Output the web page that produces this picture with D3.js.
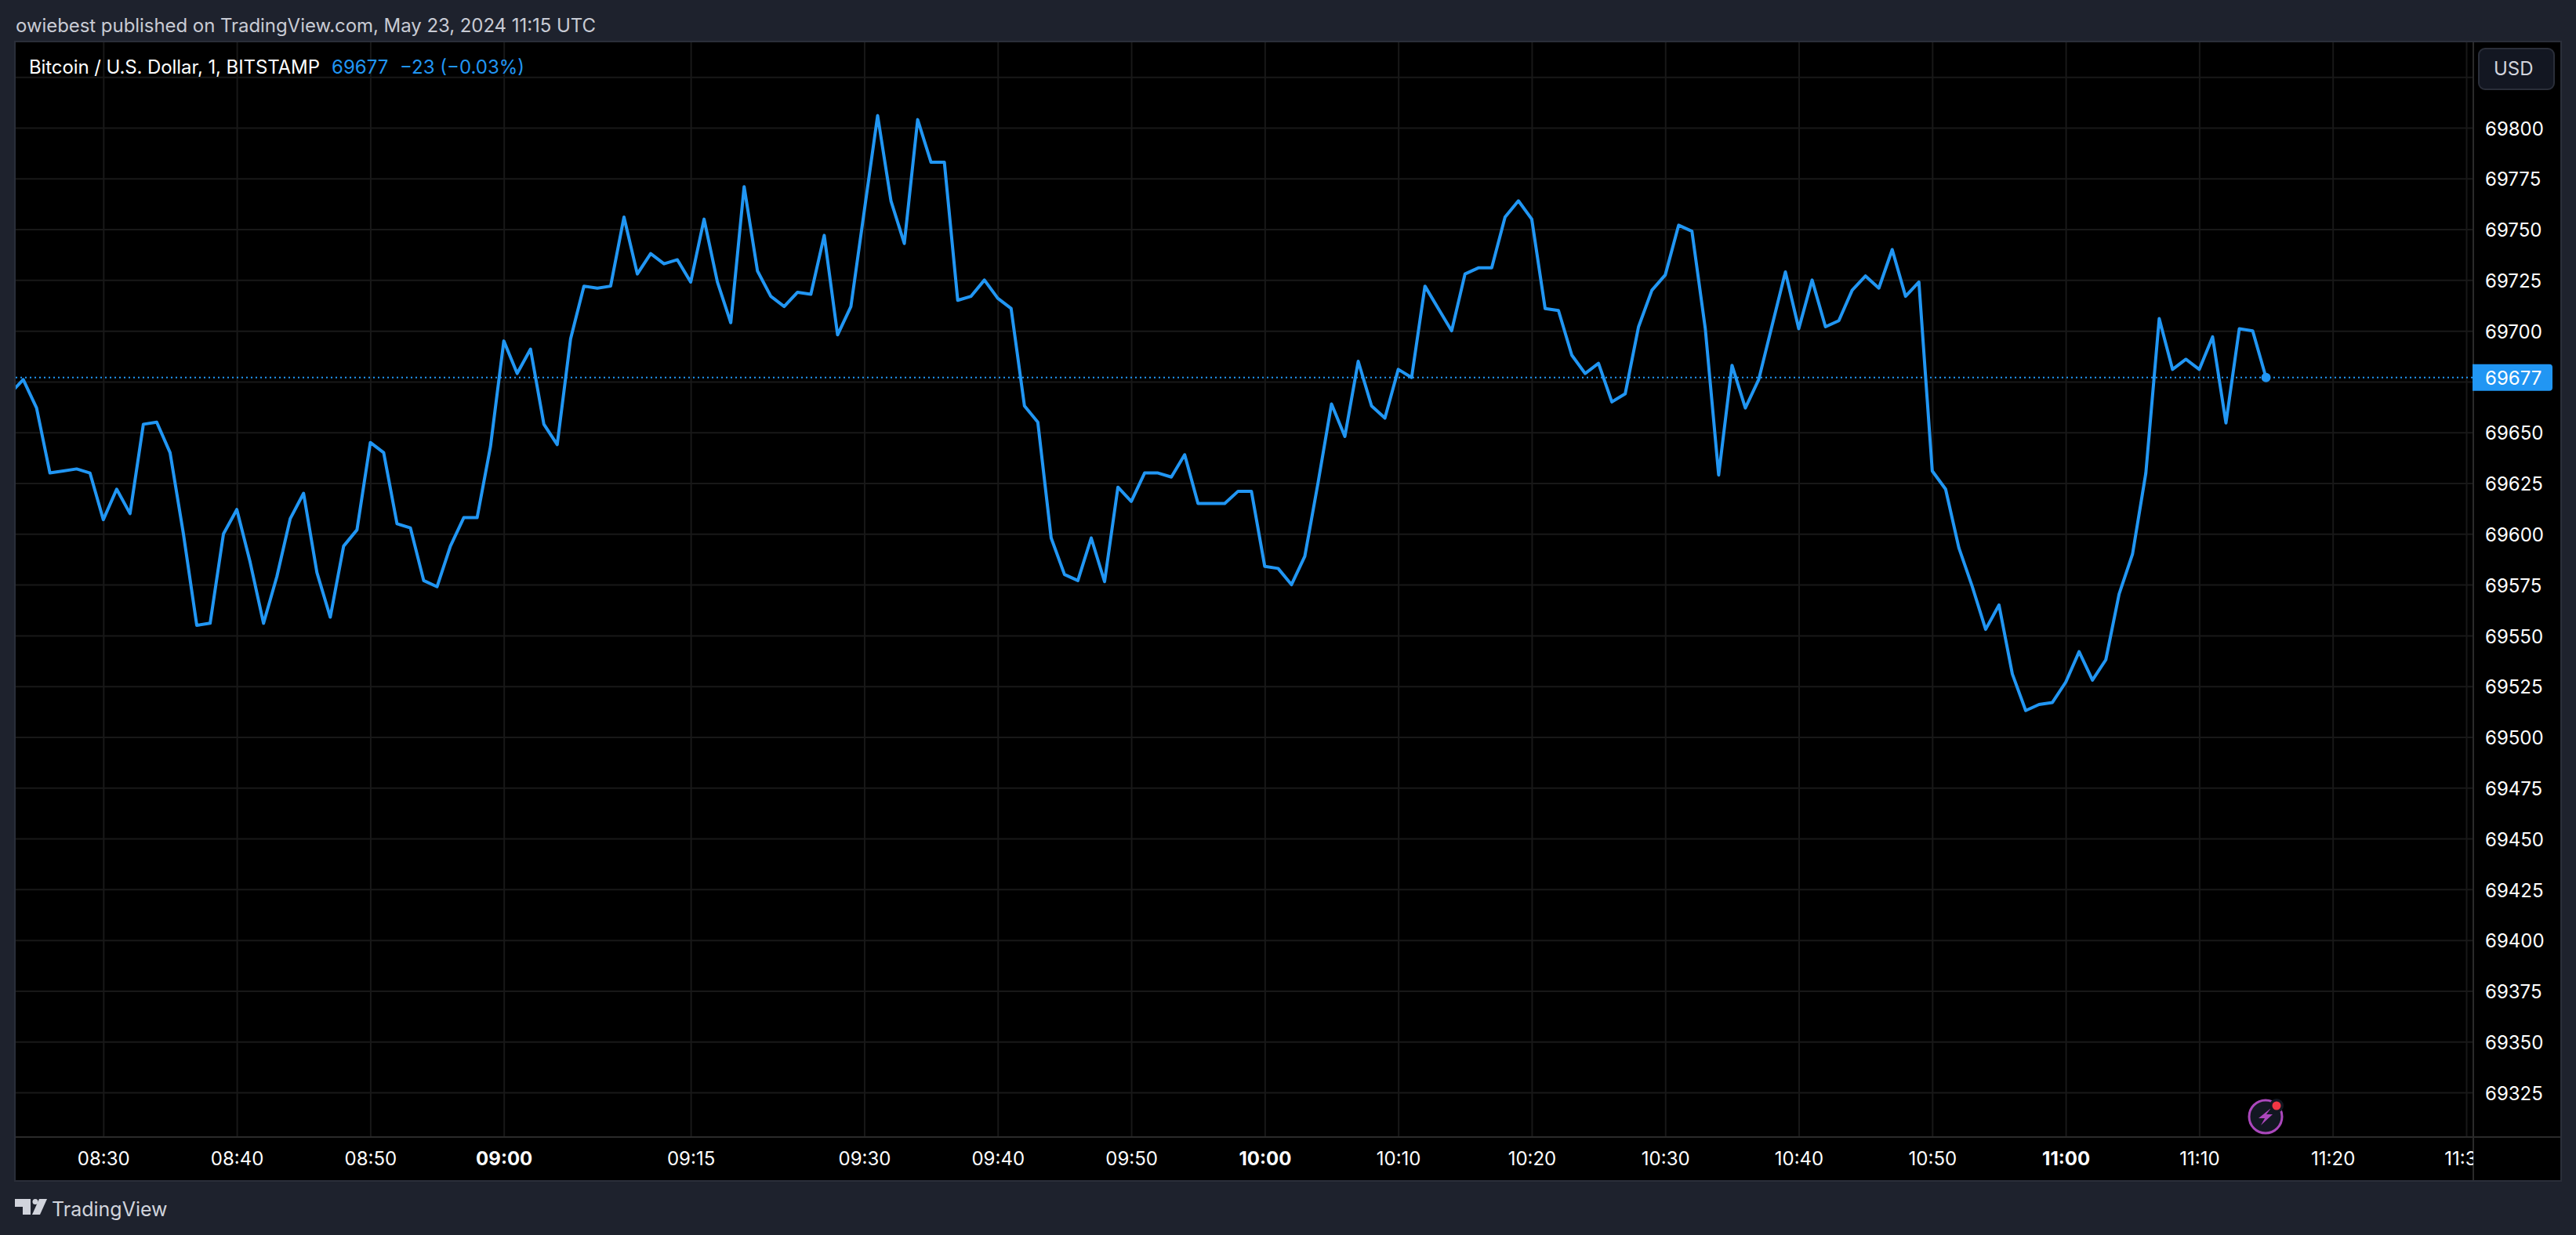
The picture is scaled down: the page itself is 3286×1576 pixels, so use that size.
<!DOCTYPE html>
<html>
<head>
<meta charset="utf-8">
<script src="https://cdn.jsdelivr.net/npm/d3@7"></script>
<style>
    html, body { margin: 0; padding: 0; background: #1e222d; }
    svg { display: block; }
    text { font-family: Inter, "Noto Sans", sans-serif; }
</style>
</head>
<body>
<svg width="3286" height="1576"></svg>
<script>
// closing price of each 1 minute bar
const closes = [
    69669, 69676, 69662, 69630, 69631, 69632, 69630, 69607, 69622, 69610,
    69654, 69655, 69640, 69600, 69555, 69556, 69600, 69612, 69586, 69556,
    69579, 69607.5, 69620, 69581, 69559, 69594, 69602, 69645, 69640, 69605,
    69603, 69577, 69574, 69594, 69608, 69608, 69643, 69695, 69679, 69691,
    69654, 69644, 69696, 69722, 69721, 69722, 69756, 69728, 69738, 69733,
    69735, 69724, 69755, 69724, 69704, 69771, 69729.5, 69717, 69712, 69719,
    69718, 69747, 69698, 69712, 69759, 69806, 69764, 69743, 69804, 69783,
    69783, 69715, 69717, 69725, 69716, 69711, 69663, 69655, 69598, 69580,
    69577, 69598, 69576.5, 69623, 69616, 69630, 69630, 69628, 69639, 69615,
    69615, 69615, 69621, 69621, 69584, 69583, 69575, 69589, 69625.5, 69664,
    69648, 69685, 69663, 69657, 69681, 69677, 69722, 69711, 69700, 69728,
    69731, 69731, 69756, 69764, 69755, 69711, 69710, 69688, 69679, 69684,
    69665, 69669, 69702, 69720, 69727.5, 69752, 69749, 69701, 69629, 69683,
    69662, 69676, 69702.6, 69729, 69701, 69725, 69702, 69705, 69720, 69727,
    69721, 69740, 69717, 69724, 69631, 69622, 69593, 69574, 69553, 69565,
    69531, 69513, 69516, 69517, 69527, 69542, 69528, 69538, 69570.5, 69590,
    69630, 69706, 69681, 69686, 69681, 69697, 69654.6, 69701, 69700, 69677
];

const lastPrice = 69677;

const priceTicks = [69325, 69350, 69375, 69400, 69425, 69450, 69475, 69500, 69525, 69550,
    69575, 69600, 69625, 69650, 69675, 69700, 69725, 69750, 69775, 69800];
const priceGrid = priceTicks.concat([69825]);

// bar index of each time label: bars are missing around 09:15, so not every minute is a bar
const timeBars = [7, 17, 27, 37, 51, 64, 74, 84, 94, 104, 114, 124, 134, 144, 154, 164, 174, 184];
const timeLabels = ["08:30", "08:40", "08:50", "09:00", "09:15", "09:30", "09:40", "09:50", "10:00",
    "10:10", "10:20", "10:30", "10:40", "10:50", "11:00", "11:10", "11:20", "11:30"];

const headerText = "owiebest published on TradingView.com, May 23, 2024 11:15 UTC";
const legendTitle = "Bitcoin / U.S. Dollar, 1, BITSTAMP";
const legendPrice = "69677";
const legendChange = "\u221223 (\u22120.03%)";

const blue = "#2196f3";
const attr_area = {
    left: 20, top: 54, right: 3266, bottom: 1506,
    paneRight: 3155, paneBottom: 1451
};

const svg = d3.select("svg");

const scaleX = d3.scaleLinear().domain([0, 184]).range([12.6, 3146]);
const scaleY = d3.scaleLinear().domain([69325, 69800]).range([1394, 163]);

svg.append("rect")
    .attr("x", attr_area.left)
    .attr("y", attr_area.top)
    .attr("width", attr_area.right - attr_area.left)
    .attr("height", attr_area.bottom - attr_area.top)
    .style("fill", "#000");

const defs = svg.append("defs");
defs.append("clipPath").attr("id", "pane").append("rect")
    .attr("x", attr_area.left)
    .attr("y", attr_area.top)
    .attr("width", attr_area.paneRight - attr_area.left)
    .attr("height", attr_area.paneBottom - attr_area.top);
defs.append("clipPath").attr("id", "timeArea").append("rect")
    .attr("x", attr_area.left)
    .attr("y", attr_area.paneBottom)
    .attr("width", attr_area.paneRight - attr_area.left)
    .attr("height", attr_area.bottom - attr_area.paneBottom);

// grid lines come from axes with a full length tick and no label
const gridX = d3.axisBottom(scaleX).tickValues(timeBars).tickFormat("")
    .tickSize(attr_area.top - attr_area.paneBottom);
const gridY = d3.axisRight(scaleY).tickValues(priceGrid).tickFormat("")
    .tickSize(attr_area.paneRight - attr_area.left);

const gridGroup = svg.append("g").attr("clip-path", "url(#pane)");
gridGroup.append("g")
    .attr("transform", `translate(0, ${attr_area.paneBottom})`)
    .call(gridX);
gridGroup.append("g")
    .attr("transform", `translate(${attr_area.left}, 0)`)
    .call(gridY);
gridGroup.selectAll(".domain").remove();
gridGroup.selectAll("line").style("stroke", "#181818").style("stroke-width", 2);

// dotted last price line
gridGroup.append("line")
    .attr("x1", attr_area.left)
    .attr("x2", attr_area.paneRight)
    .attr("y1", scaleY(lastPrice))
    .attr("y2", scaleY(lastPrice))
    .style("stroke", blue)
    .style("stroke-width", 2)
    .style("stroke-dasharray", "2 4");

const line = d3.line()
    .x((d, i) => scaleX(i))
    .y(d => scaleY(d));

gridGroup.append("path")
    .datum(closes)
    .attr("d", line)
    .style("fill", "none")
    .style("stroke", blue)
    .style("stroke-width", 4)
    .style("stroke-linejoin", "round");

gridGroup.append("circle")
    .attr("cx", scaleX(closes.length - 1))
    .attr("cy", scaleY(lastPrice))
    .attr("r", 6)
    .style("fill", blue);

// pane separators and outer frame
svg.append("line")
    .attr("x1", attr_area.left).attr("x2", attr_area.right)
    .attr("y1", attr_area.paneBottom).attr("y2", attr_area.paneBottom)
    .style("stroke", "#2a2a2a").style("stroke-width", 2);
svg.append("line")
    .attr("x1", attr_area.paneRight).attr("x2", attr_area.paneRight)
    .attr("y1", attr_area.top).attr("y2", attr_area.bottom)
    .style("stroke", "#2a2a2a").style("stroke-width", 2);
svg.append("rect")
    .attr("x", attr_area.left - 1)
    .attr("y", attr_area.top - 1)
    .attr("width", attr_area.right - attr_area.left + 2)
    .attr("height", attr_area.bottom - attr_area.top + 2)
    .style("fill", "none")
    .style("stroke", "#2a2e39")
    .style("stroke-width", 2);

// price axis
const axisPrice = d3.axisRight(scaleY).tickValues(priceTicks).tickFormat(d3.format("d")).tickSize(0).tickPadding(0);
const priceGroup = svg.append("g")
    .attr("transform", "translate(3170, 1.5)")
    .call(axisPrice);
priceGroup.select(".domain").remove();
priceGroup.selectAll("text")
    .attr("x", 0)
    .style("font-family", "Inter, sans-serif")
    .style("font-size", "24px")
    .style("fill", "#fff");

// time axis
const axisTime = d3.axisBottom(scaleX).tickValues(timeBars)
    .tickFormat((d, i) => timeLabels[i]).tickSize(0).tickPadding(0);
const timeGroup = svg.append("g")
    .attr("clip-path", "url(#timeArea)")
    .append("g")
    .attr("transform", "translate(0, 1470)")
    .call(axisTime);
timeGroup.select(".domain").remove();
timeGroup.selectAll("text")
    .style("font-family", "Inter, sans-serif")
    .style("font-size", "24px")
    .style("font-weight", (d, i) => timeLabels[i].endsWith(":00") ? 700 : 400)
    .style("fill", "#fff");

// last price label
const priceBoxY = scaleY(lastPrice) - 17;
svg.append("path")
    .attr("d", `M3154 ${priceBoxY} h98 a4 4 0 0 1 4 4 v26 a4 4 0 0 1 -4 4 h-98 z`)
    .style("fill", blue);
svg.append("text")
    .attr("x", 3170)
    .attr("y", scaleY(lastPrice) + 1)
    .attr("dy", "0.36em")
    .style("font-size", "24px")
    .style("fill", "#fff")
    .text(lastPrice);

// currency button
svg.append("rect")
    .attr("x", 3162).attr("y", 62)
    .attr("width", 96).attr("height", 52)
    .attr("rx", 8)
    .style("fill", "#131722")
    .style("stroke", "#2a2e39")
    .style("stroke-width", 2);
svg.append("text")
    .attr("x", 3181).attr("y", 87)
    .attr("dy", "0.36em")
    .style("font-size", "24px")
    .style("fill", "#d1d4dc")
    .text("USD");

// header and legend
svg.append("text")
    .attr("x", 20).attr("y", 32)
    .attr("dy", "0.36em")
    .style("font-size", "24px")
    .attr("textLength", 740)
    .style("fill", "#c8cbd4")
    .text(headerText);
svg.append("text")
    .attr("x", 37).attr("y", 85)
    .attr("dy", "0.36em")
    .style("font-size", "24px")
    .attr("textLength", 371)
    .style("fill", "#fff")
    .text(legendTitle);
svg.append("text")
    .attr("x", 423).attr("y", 85)
    .attr("dy", "0.36em")
    .style("font-size", "24px")
    .style("fill", blue)
    .text(legendPrice);
svg.append("text")
    .attr("x", 510).attr("y", 85)
    .attr("dy", "0.36em")
    .style("font-size", "24px")
    .style("fill", blue)
    .text(legendChange);

// TradingView logo, bottom left
const logo = svg.append("g").style("fill", "#d1d4dc");
logo.append("path").attr("d", "M19 1530 h20 v20 h-10 v-10 h-10 z");
logo.append("circle").attr("cx", 45).attr("cy", 1533.5).attr("r", 3.5);
logo.append("path").attr("d", "M50 1530 h10 l-9 20 h-10 z");
svg.append("text")
    .attr("x", 66).attr("y", 1543)
    .attr("dy", "0.36em")
    .style("font-size", "25px")
    .style("fill", "#d1d4dc")
    .text("TradingView");

// lightning badge near the last bar
const badge = svg.append("g").attr("transform", "translate(2890, 1425)");
badge.append("circle").attr("r", 21).style("fill", "#131722").style("stroke", "#ab47bc").style("stroke-width", 3);
badge.append("path")
    .attr("d", "M7 -11 L-9 2 L-1 2 L-6 11 L9 -3 L1 -3 Z")
    .style("fill", "#ab47bc");
badge.append("circle").attr("cx", 14).attr("cy", -14).attr("r", 9).style("fill", "#131722");
badge.append("circle").attr("cx", 14).attr("cy", -14).attr("r", 5.5).style("fill", "#f23645");
</script>
</body>
</html>
